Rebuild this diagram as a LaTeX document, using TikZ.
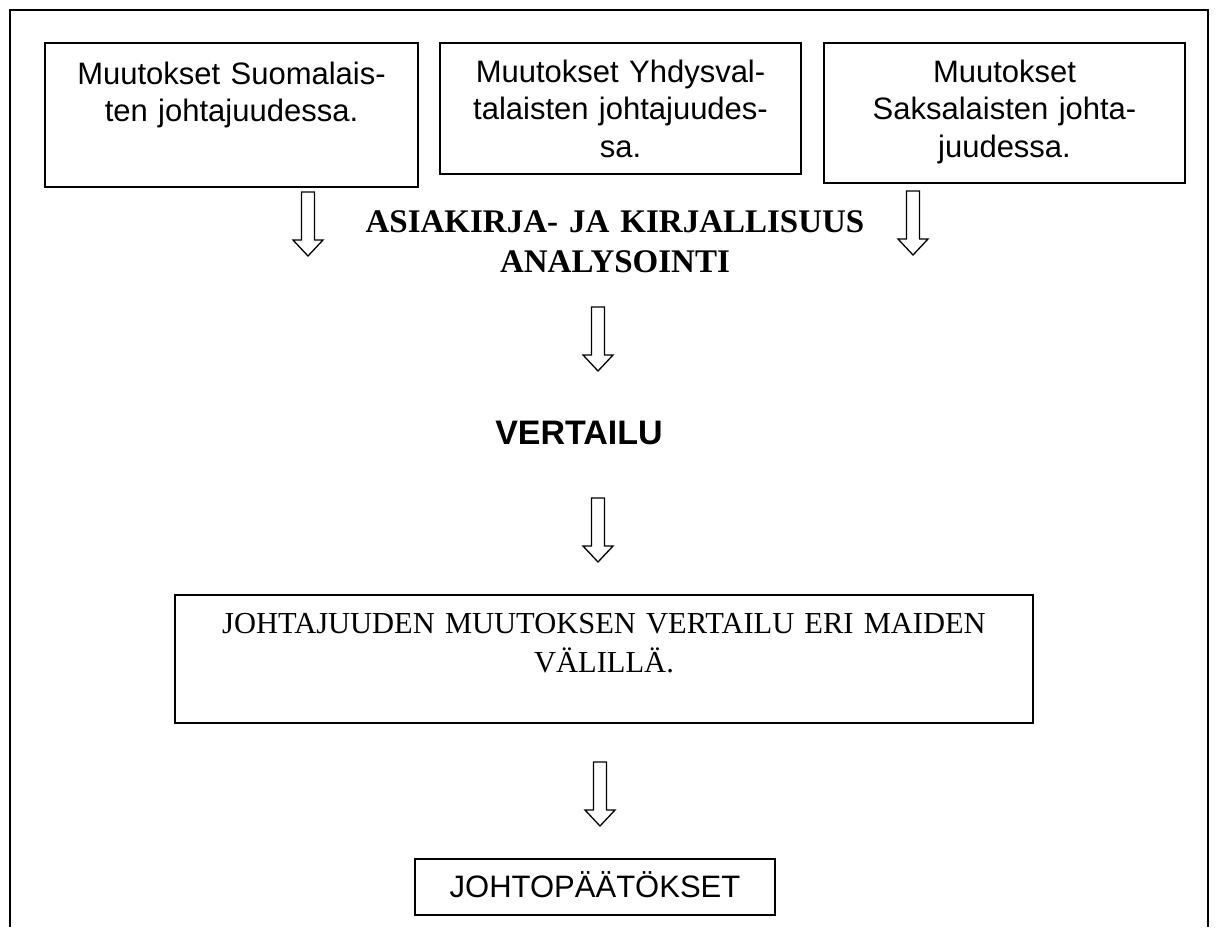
\documentclass[tikz,border=0pt]{standalone}
\usepackage{fontspec}
\setmainfont{Liberation Serif}
\setsansfont{Liberation Sans}
\usepackage{tikz}

\begin{document}
\begin{tikzpicture}[x=1pt,y=-1pt,
  box/.style={draw,line width=1.8pt,inner sep=0pt,align=center},
  sansbox/.style={box,font=\sffamily\fontsize{31}{37.5}\selectfont},
  pics/downarrow/.style={code={
    \draw[line width=1.3pt] (-6.5,0) -- (6.5,0) -- (6.5,48) -- (15,48) -- (0,64)
      -- (-15,48) -- (-6.5,48) -- cycle;}}]

\useasboundingbox (0,0) rectangle (1220,927);
% open frame round the whole chart
\draw[line width=1.8pt] (10,927) -- (10,10) -- (1208,10) -- (1208,927);

% three countries
\node[sansbox, text width=373pt, text height=41pt, text depth=103pt] (fin) at (231.5,115)
  {Muutokset Suomalais-\\ten johtajuudessa.};
\node[sansbox, text width=361pt, text height=39pt, text depth=92pt] (usa) at (620.5,108.5)
  {Muutokset Yhdysval-\\talaisten johtajuudes-\\sa.};
\node[sansbox, text width=361pt, text height=39pt, text depth=101pt] (ger) at (1004.5,113)
  {Muutokset\\Saksalaisten johta-\\juudessa.};

\pic at (308,192) {downarrow};
\pic at (913,191) {downarrow};

\node[anchor=base, text width=600pt, align=center,
  font=\bfseries\fontsize{33}{40}\selectfont] (analyysi) at (615,232)
  {ASIAKIRJA- JA KIRJALLISUUS\\ANALYSOINTI};

\pic at (598,307) {downarrow};

\node[anchor=base, font=\sffamily\bfseries\fontsize{34}{40}\selectfont] (vert) at (579,444) {VERTAILU};

\pic at (598,498) {downarrow};

\node[box, text width=858pt, text height=38pt, text depth=90pt,
  font=\fontsize{30.5}{39}\selectfont] (maat) at (604,659)
  {JOHTAJUUDEN MUUTOKSEN VERTAILU ERI MAIDEN\\VÄLILLÄ.};

\pic at (600,762) {downarrow};

\node[sansbox, text width=360pt, text height=38pt, text depth=18pt] (johto) at (595,887)
  {JOHTOPÄÄTÖKSET};
\end{tikzpicture}
\end{document}
